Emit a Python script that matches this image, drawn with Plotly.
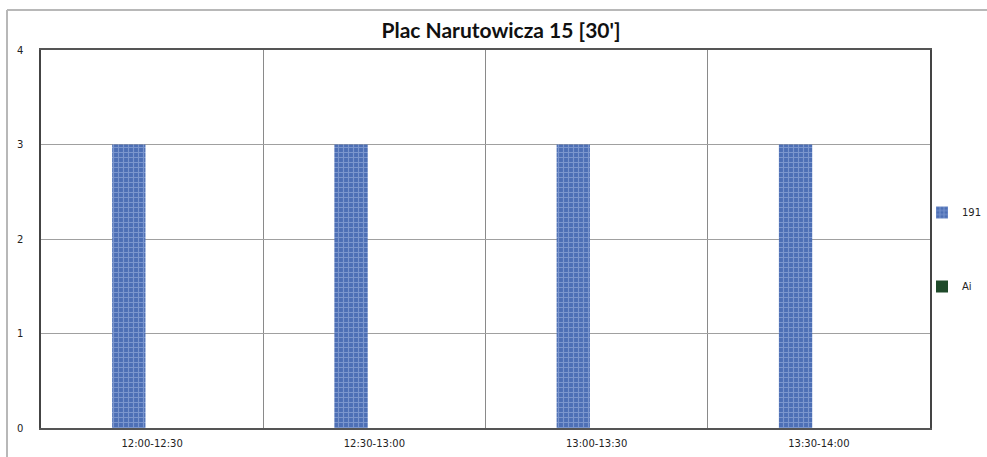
import plotly.graph_objects as go

categories = ["12:00-12:30", "12:30-13:00", "13:00-13:30", "13:30-14:00"]
series_191 = [3, 3, 3, 3]
series_ai = [0, 0, 0, 0]
title_text = "Plac Narutowicza 15 [30']"

fig = go.Figure()
fig.add_trace(go.Bar(
    x=categories, y=series_191, name="191",
    width=0.15, offset=-0.18,
    marker=dict(color="#5577bb", line=dict(width=0),
                pattern=dict(shape="+", fgcolor="#a9bde6", bgcolor="#4d6fb5",
                             size=5, solidity=0.4)),
    legendgroup="a",
))
fig.add_trace(go.Bar(
    x=categories, y=series_ai, name="Ai",
    width=0.15, offset=-0.03,
    marker=dict(color="#1f4a2a", line=dict(width=0)),
    legendgroup="b",
))

W, H = 987, 457
ml, mr, mt, mb = 41, 57, 50, 29
pw, ph = W - ml - mr, H - mt - mb

def px_x(x):
    return (x - ml) / pw

def px_y(y):
    return (H - mb - y) / ph

fig.update_layout(
    width=W, height=H,
    margin=dict(l=ml, r=mr, t=mt, b=mb, pad=0, autoexpand=False),
    paper_bgcolor="white", plot_bgcolor="white",
    barmode="overlay",
    title=dict(text="<b>" + title_text + "</b>", x=px_x(501), xanchor="center",
               xref="paper", y=1 - 31 / H, yanchor="middle",
               font=dict(family="Lato, Roboto, Arial", size=21, color="#111")),
    showlegend=True,
    legend=dict(x=px_x(922), xanchor="left", y=px_y(198), yanchor="top",
                tracegroupgap=55, font=dict(family="DejaVu Sans", size=10, color="#222"),
                itemwidth=30, bgcolor="rgba(0,0,0,0)", traceorder="grouped"),
    xaxis=dict(type="category", tickson="boundaries", showgrid=True,
               gridcolor="#8a8a8a", gridwidth=1,
               showline=True, linecolor="#555", linewidth=1.5, mirror=True,
               ticks="", tickfont=dict(family="DejaVu Sans", size=10, color="#222"),
               ticklabelstandoff=5, range=[-0.5, 3.5], zeroline=False),
    yaxis=dict(range=[0, 4], dtick=1, showgrid=True, gridcolor="#a0a0a0", gridwidth=1,
               showline=True, linecolor="#444", linewidth=1.5, mirror=True,
               ticks="", tickfont=dict(family="DejaVu Sans", size=10, color="#222"),
               ticklabelstandoff=14, zeroline=False),
    shapes=[
        dict(type="line", xref="paper", yref="paper",
             x0=px_x(7), x1=px_x(1000), y0=px_y(10), y1=px_y(10),
             line=dict(color="#b8b8b8", width=2)),
        dict(type="line", xref="paper", yref="paper",
             x0=px_x(7), x1=px_x(7), y0=px_y(10), y1=px_y(470),
             line=dict(color="#b8b8b8", width=2)),
    ],
)

fig.write_html("out.html", config={"displayModeBar": False},
               post_script="document.body.style.margin='0';document.body.style.overflow='hidden';")
